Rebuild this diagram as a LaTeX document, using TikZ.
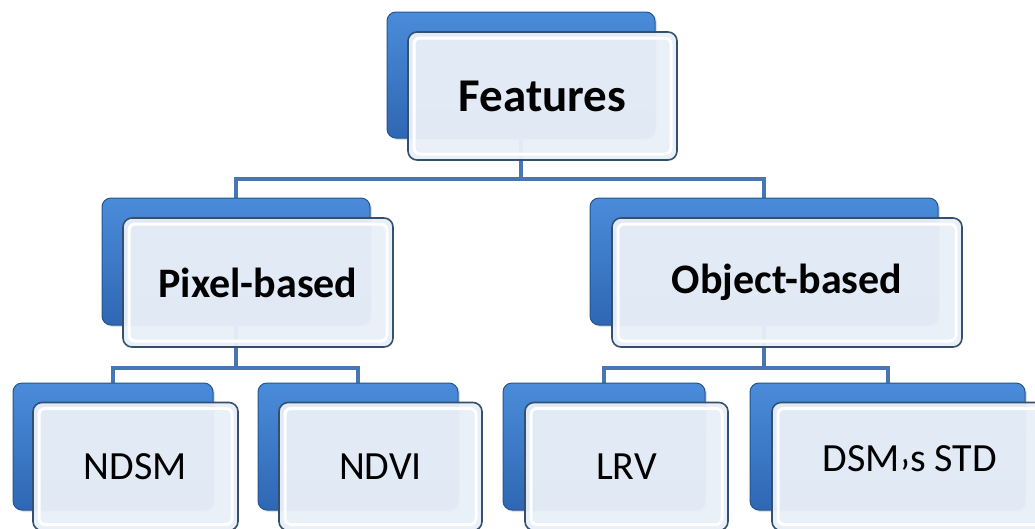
\documentclass[tikz,border=0pt]{standalone}
\usepackage{fontspec}
\setmainfont{Carlito}
\usetikzlibrary{backgrounds,shadows}

\definecolor{topblue}{HTML}{4A8CDA}
\definecolor{midblue}{HTML}{3A7BCB}
\definecolor{botblue}{HTML}{2F67B3}
\definecolor{edgeblue}{HTML}{24558F}
\definecolor{paleblue}{HTML}{E9EFF8}
\definecolor{framegray}{HTML}{34506C}
\definecolor{linkblue}{HTML}{4677B4}

\tikzset{
  backbox/.style={rounded corners=9pt, draw=edgeblue, line width=1pt,
    top color=topblue, middle color=midblue, bottom color=botblue, inner sep=0pt,
    drop shadow={shadow xshift=2pt, shadow yshift=-2pt, opacity=0.25}},
  frontbox/.style={rounded corners=9pt, draw=framegray, line width=1.6pt,
    fill=paleblue, fill opacity=0.96, text opacity=1, inner sep=0pt,
    path picture={\draw [white, line width=3pt, rounded corners=6pt]
      ([shift={(6pt,-6pt)}]path picture bounding box.north west) rectangle
      ([shift={(-6pt,6pt)}]path picture bounding box.south east);}},
  toptext/.style={font=\bfseries\fontsize{47}{52}\selectfont},
  midtext/.style={font=\bfseries\fontsize{42}{46}\selectfont},
  lowtext/.style={font=\fontsize{40}{44}\selectfont},
  link/.style={draw=linkblue, line width=4pt}
}

\begin{document}
\begin{tikzpicture}[x=1pt,y=-1pt]
\useasboundingbox (0,0) rectangle (1035,528);
% top
\node [backbox, minimum width=268pt, minimum height=126pt] (featB) at (521,75) {};
\node [frontbox, toptext, minimum width=269pt, minimum height=128pt] (feat) at (542.5,96) {Features};
% middle
\node [backbox, minimum width=268pt, minimum height=127pt] (pixB) at (236,261.5) {};
\node [frontbox, midtext, minimum width=270pt, minimum height=129pt] (pix) at (258,282.5) {Pixel-based};
\node [backbox, minimum width=348pt, minimum height=127pt] (objB) at (764,261.5) {};
\node [frontbox, midtext, minimum width=350pt, minimum height=129pt] (obj) at (787,282.5) {Object-based};
% bottom
\node [backbox, minimum width=200pt, minimum height=127pt] (ndsmB) at (113,446.5) {};
\node [frontbox, lowtext, minimum width=205pt, minimum height=128pt] (ndsm) at (135.5,466.5) {NDSM};
\node [backbox, minimum width=200pt, minimum height=127pt] (ndviB) at (358,446.5) {};
\node [frontbox, lowtext, minimum width=203pt, minimum height=128pt] (ndvi) at (380.5,466.5) {NDVI};
\node [backbox, minimum width=202pt, minimum height=127pt] (lrvB) at (604,446.5) {};
\node [frontbox, lowtext, minimum width=203pt, minimum height=128pt] (lrv) at (626.5,466.5) {LRV};
\node [backbox, minimum width=275pt, minimum height=127pt] (dsmB) at (887.5,446.5) {};
\node [frontbox, lowtext, minimum width=276pt, minimum height=128pt] (dsm) at (910,466.5) {DSM\raisebox{-0.38em}{’}s STD};
% links
\begin{scope}[on background layer]
\draw [link] (featB.south) -- ++(0,40) -| (pixB.north);
\draw [link] (featB.south) -- ++(0,40) -| (objB.north);
\draw [link] (pixB.south) -- ++(0,42) -| (ndsmB.north);
\draw [link] (pixB.south) -- ++(0,42) -| (ndviB.north);
\draw [link] (objB.south) -- ++(0,42) -| (lrvB.north);
\draw [link] (objB.south) -- ++(0,42) -| (dsmB.north);
\end{scope}
\end{tikzpicture}
\end{document}
